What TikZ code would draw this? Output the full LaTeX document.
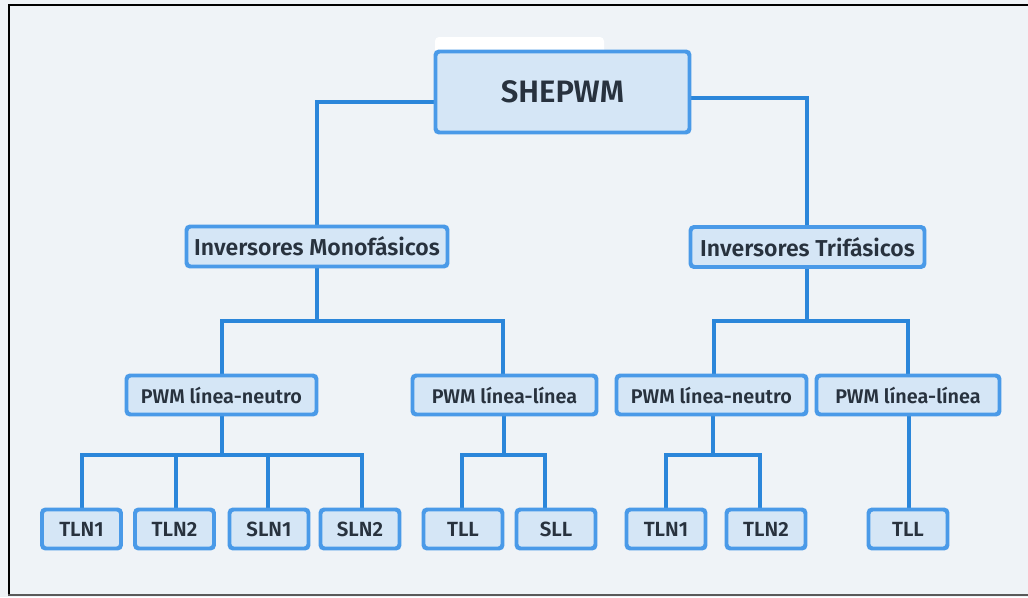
\documentclass[tikz,border=0pt]{standalone}
\usepackage{fontspec}
\setmainfont{Fira Sans SemiBold}
\definecolor{paper}{HTML}{EFF3F7}
\definecolor{wire}{HTML}{2B86DA}
\definecolor{edge}{HTML}{4A9AE8}
\definecolor{panel}{HTML}{D5E6F6}
\definecolor{ink}{HTML}{28323E}
\begin{document}
\begin{tikzpicture}[x=1pt,y=-1pt,
  box/.style={draw=edge, fill=panel, line width=2.5pt, rounded corners=3.5pt,
    text=ink, inner sep=0pt, minimum height=37.6pt},
  rootbox/.style={box, minimum width=252.6pt, minimum height=79.6pt, font=\fontsize{31}{34}\selectfont},
  groupbox/.style={box, minimum height=38.6pt, font=\fontsize{23}{26}\selectfont},
  modebox/.style={box, font=\fontsize{19.8}{22}\selectfont},
  leafbox/.style={box, minimum width=77.6pt, font=\fontsize{20.5}{23}\selectfont},
  link/.style={draw=wire, line width=4pt, line join=miter}]

\useasboundingbox (0,0) rectangle (1028,597);
\fill[paper] (0,0) rectangle (1028,597);

% frame
\draw[black, line width=2pt] (8,5) -- (1028,5);
\draw[black, line width=2pt] (9,4) -- (9,596);
\draw[black!65, line width=2pt] (8,595) -- (1028,595);

% white tab behind the title box
\fill[white, rounded corners=4pt] (435,37) rectangle (604,60);

% nodes
\node[rootbox] (root) at (562.5,92) {SHEPWM};

\node[groupbox, minimum width=259.6pt] (mono) at (317,246.5) {Inversores Monofásicos};
\node[groupbox, minimum width=232.6pt] (tri) at (807.5,247) {Inversores Trifásicos};

\node[modebox, minimum width=188.6pt] (lnL) at (221.5,395) {PWM línea-neutro};
\node[modebox, minimum width=182.6pt] (llL) at (504.5,395) {PWM línea-línea};
\node[modebox, minimum width=188.6pt] (lnR) at (711.5,395) {PWM línea-neutro};
\node[modebox, minimum width=181.6pt] (llR) at (908,395) {PWM línea-línea};

\node[leafbox] (tlnA) at (81.5,529) {TLN1};
\node[leafbox] (tlnB) at (174.5,529) {TLN2};
\node[leafbox] (slnA) at (269,529) {SLN1};
\node[leafbox] (slnB) at (360,529) {SLN2};
\node[leafbox] (tllL) at (463,529) {TLL};
\node[leafbox] (sllL) at (556,529) {SLL};
\node[leafbox] (tlnC) at (666,529) {TLN1};
\node[leafbox] (tlnD) at (766,529) {TLN2};
\node[leafbox] (tllR) at (908,529) {TLL};

% junction points of the branch buses
\coordinate (busMono) at (317,321);
\coordinate (busTri) at (807,321);
\coordinate (busLnL) at (222,455);
\coordinate (busLlL) at (504,455);
\coordinate (busLnR) at (713,455);

% connectors
\draw[link] ([yshift=-10pt]root.west) -| (mono.north);
\draw[link] ([yshift=-5.5pt]root.east) -| ([xshift=-0.5pt]tri.north);

\draw[link] (mono.south) -- (busMono);
\draw[link] (busMono) -| ([xshift=0.5pt]lnL.north);
\draw[link] (busMono) -| ([xshift=-1.5pt]llL.north);

\draw[link] ([xshift=-0.5pt]tri.south) -- (busTri);
\draw[link] (busTri) -| ([xshift=2.5pt]lnR.north);
\draw[link] (busTri) -| (llR.north);

\draw[link] ([xshift=0.5pt]lnL.south) -- (busLnL);
\draw[link] (busLnL) -| ([xshift=0.5pt]tlnA.north);
\draw[link] (busLnL) -| ([xshift=1.5pt]tlnB.north);
\draw[link] (busLnL) -| ([xshift=-1pt]slnA.north);
\draw[link] (busLnL) -| ([xshift=2pt]slnB.north);

\draw[link] ([xshift=-0.5pt]llL.south) -- (busLlL);
\draw[link] (busLlL) -| ([xshift=-1pt]tllL.north);
\draw[link] (busLlL) -| ([xshift=-11pt]sllL.north);

\draw[link] ([xshift=1.5pt]lnR.south) -- (busLnR);
\draw[link] (busLnR) -| (tlnC.north);
\draw[link] (busLnR) -| ([xshift=-6pt]tlnD.north);

\draw[link] ([xshift=1pt]llR.south) -- ([xshift=1pt]tllR.north);

% redraw the box outlines over the line ends
\foreach \n in {root,mono,tri,lnL,llL,lnR,llR,tlnA,tlnB,slnA,slnB,tllL,sllL,tlnC,tlnD,tllR}{
  \draw[edge, line width=2.5pt, rounded corners=3.5pt] (\n.north west) rectangle (\n.south east);
}
\end{tikzpicture}
\end{document}
